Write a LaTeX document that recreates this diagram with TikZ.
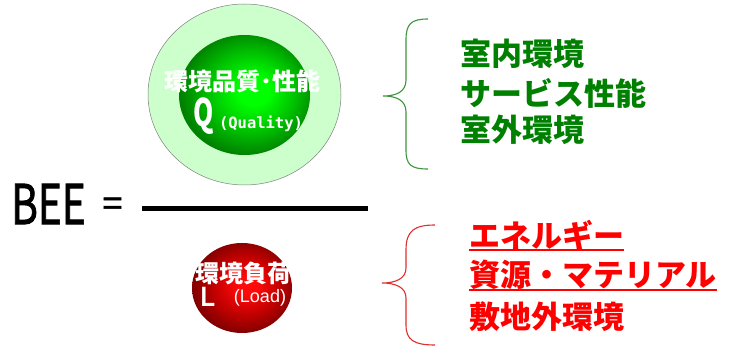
\documentclass[tikz,border=0pt]{standalone}
\usepackage{fontspec}
\newfontfamily\cjk{Noto Sans CJK JP}
\newfontfamily\beefont[FakeBold=1.6]{Noto Sans CJK JP}
\newfontfamily\arialfont{Liberation Sans}
\newfontfamily\monofont{DejaVu Sans Mono}
\definecolor{qtext}{RGB}{0,128,0}
\definecolor{ltext}{RGB}{255,0,0}
\definecolor{ringfill}{RGB}{204,255,204}
\definecolor{bracegreen}{RGB}{60,150,60}
\definecolor{bracered}{RGB}{225,45,45}
\definecolor{gbA}{RGB}{0,255,0}
\definecolor{gbB}{RGB}{0,190,0}
\definecolor{gbC}{RGB}{0,130,0}
\definecolor{rbA}{RGB}{255,10,10}
\definecolor{rbB}{RGB}{195,0,0}
\definecolor{rbC}{RGB}{130,0,0}
\pgfdeclareradialshading{greenball}{\pgfpoint{4bp}{2bp}}{color(0bp)=(gbA); color(6bp)=(gbA); color(17bp)=(gbB); color(26bp)=(gbC); color(50bp)=(gbC)}
\pgfdeclareradialshading{redball}{\pgfpoint{3bp}{2bp}}{color(0bp)=(rbA); color(5bp)=(rbA); color(16bp)=(rbB); color(26bp)=(rbC); color(50bp)=(rbC)}
\tikzset{
  balljp/.style={text=white, inner sep=0pt, font=\cjk\bfseries\fontsize{24}{28}\selectfont},
  qline/.style={text=qtext, anchor=west, inner sep=0pt, font=\cjk\bfseries\fontsize{31}{36}\selectfont},
  lline/.style={text=ltext, anchor=west, inner sep=0pt, font=\cjk\bfseries\fontsize{31}{36}\selectfont},
  ulinestyle/.style={ltext, line width=2pt},
  gbrace/.style={bracegreen, line width=1.1pt},
  rbrace/.style={bracered, line width=1.1pt},
}
\begin{document}
\begin{tikzpicture}[x=1pt,y=-1pt]
\useasboundingbox (0,0) rectangle (729,347);
\fill[white] (0,0) rectangle (729,347);

% quality balls
\path[fill=ringfill, draw=gray, line width=0.5pt] (244.5,94.5) ellipse [x radius=96.5pt, y radius=90.5pt];
\shade[shading=greenball] (244.5,95) ellipse [x radius=65.5pt, y radius=60pt];
\node[balljp] (qjp) at (242,81) {環境品質･性能};
\node[text=white, inner sep=0pt, font=\cjk\bfseries\fontsize{38}{40}\selectfont] (q) at (204,116) {\scalebox{0.68}[1]{Q}};
\node[text=white, inner sep=0pt, font=\monofont\bfseries\fontsize{15.5}{18}\selectfont] (qual) at (261,124) {(Quality)};

% load ball
\shade[shading=redball] (242,288) ellipse [x radius=50pt, y radius=45pt];
\node[balljp] (ljp) at (243.5,273) {環境負荷};
\node[text=white, inner sep=0pt, font=\arialfont\bfseries\fontsize{28}{30}\selectfont] (l) at (208,297) {\scalebox{0.85}[1]{L}};
\node[text=white, inner sep=0pt, font=\arialfont\fontsize{18}{20}\selectfont] (load) at (260,298) {(Load)};

% BEE =
\node[inner sep=0pt, font=\beefont\fontsize{55}{60}\selectfont] (bee) at (48.5,204) {\scalebox{0.74}[1]{BEE}};
\node[inner sep=0pt, font=\beefont\fontsize{36}{40}\selectfont] (eq) at (112.5,207) {=};
\coordinate (fl) at (142,209);
\coordinate (fr) at (368,209);
\draw[line width=5pt] (fl) -- (fr);

% green brace and list
\draw[gbrace] (428,19) .. controls (411,19) and (406,24) .. (406,40) -- (406,80)
  .. controls (406,92) and (396,96) .. (383,96)
  .. controls (396,96) and (406,100) .. (406,112) -- (406,150)
  .. controls (406,165) and (411,169) .. (428,169);
\node[qline] (q1) at (460,53.5) {室内環境};
\node[qline] (q2) at (460,93) {サービス性能};
\node[qline] (q3) at (460,129.5) {室外環境};

% red brace and list
\draw[rbrace] (435,225) .. controls (414,225) and (406,231) .. (406,250) -- (406,268)
  .. controls (406,279) and (395,283) .. (382,283)
  .. controls (395,283) and (406,287) .. (406,298) -- (406,325)
  .. controls (406,340) and (414,345) .. (435,345);
\node[lline] (l1) at (469,235) {エネルギー};
\node[lline] (l2) at (469,275) {資源・マテリアル};
\node[lline] (l3) at (469,317) {敷地外環境};
\draw[ulinestyle] ([yshift=-3pt]l1.base west) -- ([yshift=-3pt]l1.base east);
\draw[ulinestyle] ([yshift=-3.5pt]l2.base west) -- ([yshift=-3.5pt]l2.base east);
\end{tikzpicture}
\end{document}
